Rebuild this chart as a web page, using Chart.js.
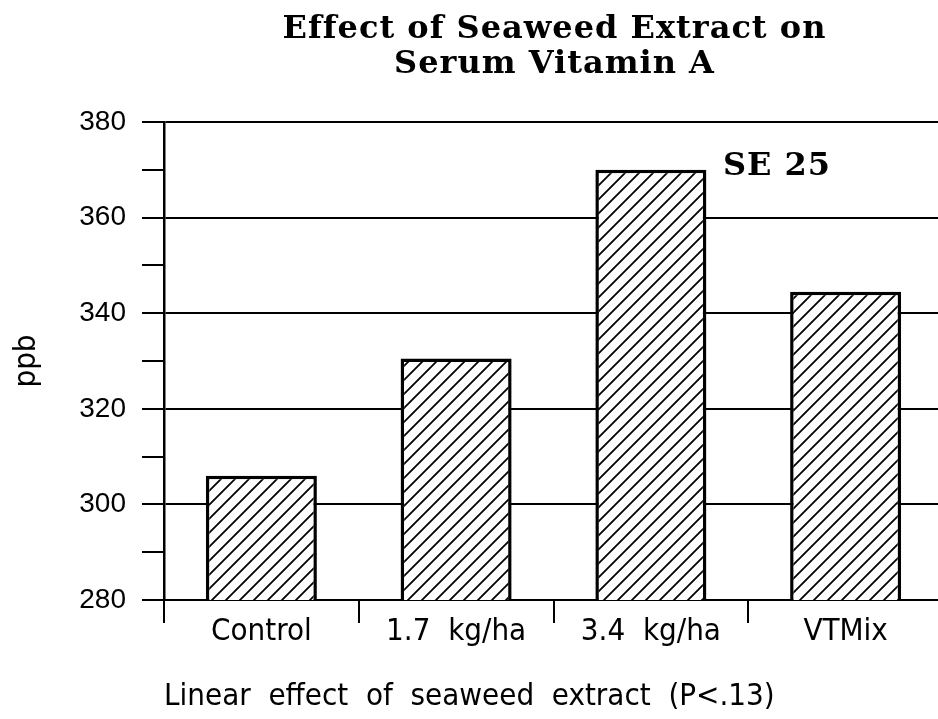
<!DOCTYPE html>
<html>
<head>
<meta charset="utf-8">
<script src="https://cdn.jsdelivr.net/npm/chart.js@4/dist/chart.umd.min.js"></script>
<style>
  html, body { margin: 0; padding: 0; background: #fff; overflow: hidden; }
  #wrap { width: 945px; height: 719px; }
</style>
</head>
<body>
<div id="wrap"><canvas id="chart"></canvas></div>
<script>
const categories = ['Control', '1.7  kg/ha', '3.4  kg/ha', 'VTMix']
const vitaminA = [306, 330.5, 370, 344.5]
const yTicks = [280, 300, 320, 340, 360, 380]
const titleLines = ['Effect of Seaweed Extract on', 'Serum Vitamin A']
const seNote = 'SE 25'
const seValue = 369
const xTitle = 'Linear  effect  of  seaweed  extract  (P<.13)'
const yTitle = 'ppb'

const narrow = '"DejaVu Sans Condensed", "Liberation Sans Narrow", "Liberation Sans", sans-serif'

// diagonal hatch for the bars
function hatch() {
    const s = 14
    const c = document.createElement('canvas')
    c.width = s
    c.height = s
    const g = c.getContext('2d')
    g.fillStyle = '#fff'
    g.fillRect(0, 0, s, s)
    g.strokeStyle = '#000'
    g.lineWidth = 1.8
    g.beginPath()
    g.moveTo(-2, s + 2); g.lineTo(s + 2, -2)
    g.moveTo(-2, 2); g.lineTo(2, -2)
    g.moveTo(s - 2, s + 2); g.lineTo(s + 2, s - 2)
    g.stroke()
    return g.createPattern(c, 'repeat')
}

const labelsPlugin = {
    id: 'labels',
    afterDraw(chart) {
        const ctx = chart.ctx
        const area = chart.chartArea
        const x = chart.scales.x
        const y = chart.scales.y
        ctx.save()
        ctx.fillStyle = '#000'
        ctx.font = 'bold 32px "DejaVu Serif", serif'
        ctx.letterSpacing = '1px'
        ctx.textAlign = 'center'
        ctx.textBaseline = 'alphabetic'
        const cx = (area.left + area.right) / 2 + 1
        ctx.fillText(titleLines[0], cx, 38)
        ctx.fillText(titleLines[1], cx, 73)
        ctx.textAlign = 'left'
        ctx.fillText(seNote, x.getPixelForValue(2) + 72, y.getPixelForValue(seValue))
        ctx.restore()
    }
}

const ctx = document.getElementById('chart').getContext('2d')
const chart = new Chart(ctx, {
    type: 'bar',
    data: {
        labels: categories,
        datasets: [{
            data: vitaminA,
            backgroundColor: hatch(),
            borderColor: '#000',
            borderWidth: 3.5,
            borderSkipped: false,
            categoryPercentage: 1,
            barPercentage: 0.57
        }]
    },
    options: {
        responsive: true,
        maintainAspectRatio: false,
        animation: false,
        layout: { padding: { top: 122, right: 2, left: 0, bottom: 0 } },
        plugins: {
            legend: { display: false },
            tooltip: { enabled: false }
        },
        scales: {
            x: {
                afterFit: function (scale) { scale.height = 119 },
                grid: {
                    drawOnChartArea: false,
                    color: '#000',
                    tickColor: '#000',
                    tickLength: 23,
                    lineWidth: 2
                },
                border: { color: '#000', width: 2 },
                ticks: {
                    color: '#000',
                    padding: -10,
                    font: { family: narrow, size: 31 }
                },
                title: {
                    display: true,
                    text: xTitle,
                    align: 'start',
                    color: '#000',
                    font: { family: narrow, size: 31 },
                    padding: { top: 0, bottom: 3 }
                }
            },
            y: {
                min: 280,
                max: 380,
                afterFit: function (scale) { scale.width = 164 },
                ticks: {
                    stepSize: 10,
                    color: '#000',
                    padding: 16,
                    font: { family: '"Liberation Sans", Arial, sans-serif', size: 28 },
                    callback: function (v) { return yTicks.includes(v) ? v : '' }
                },
                grid: {
                    color: function (c) { return yTicks.includes(c.tick.value) ? '#000' : 'rgba(0,0,0,0)' },
                    tickColor: '#000',
                    tickLength: 22,
                    lineWidth: 2
                },
                border: { color: '#000', width: 2.5 },
                title: {
                    display: true,
                    text: yTitle,
                    color: '#000',
                    font: { family: narrow, size: 31 },
                    padding: { top: 8, bottom: 0 }
                }
            }
        }
    },
    plugins: [labelsPlugin]
})
</script>
</body>
</html>
